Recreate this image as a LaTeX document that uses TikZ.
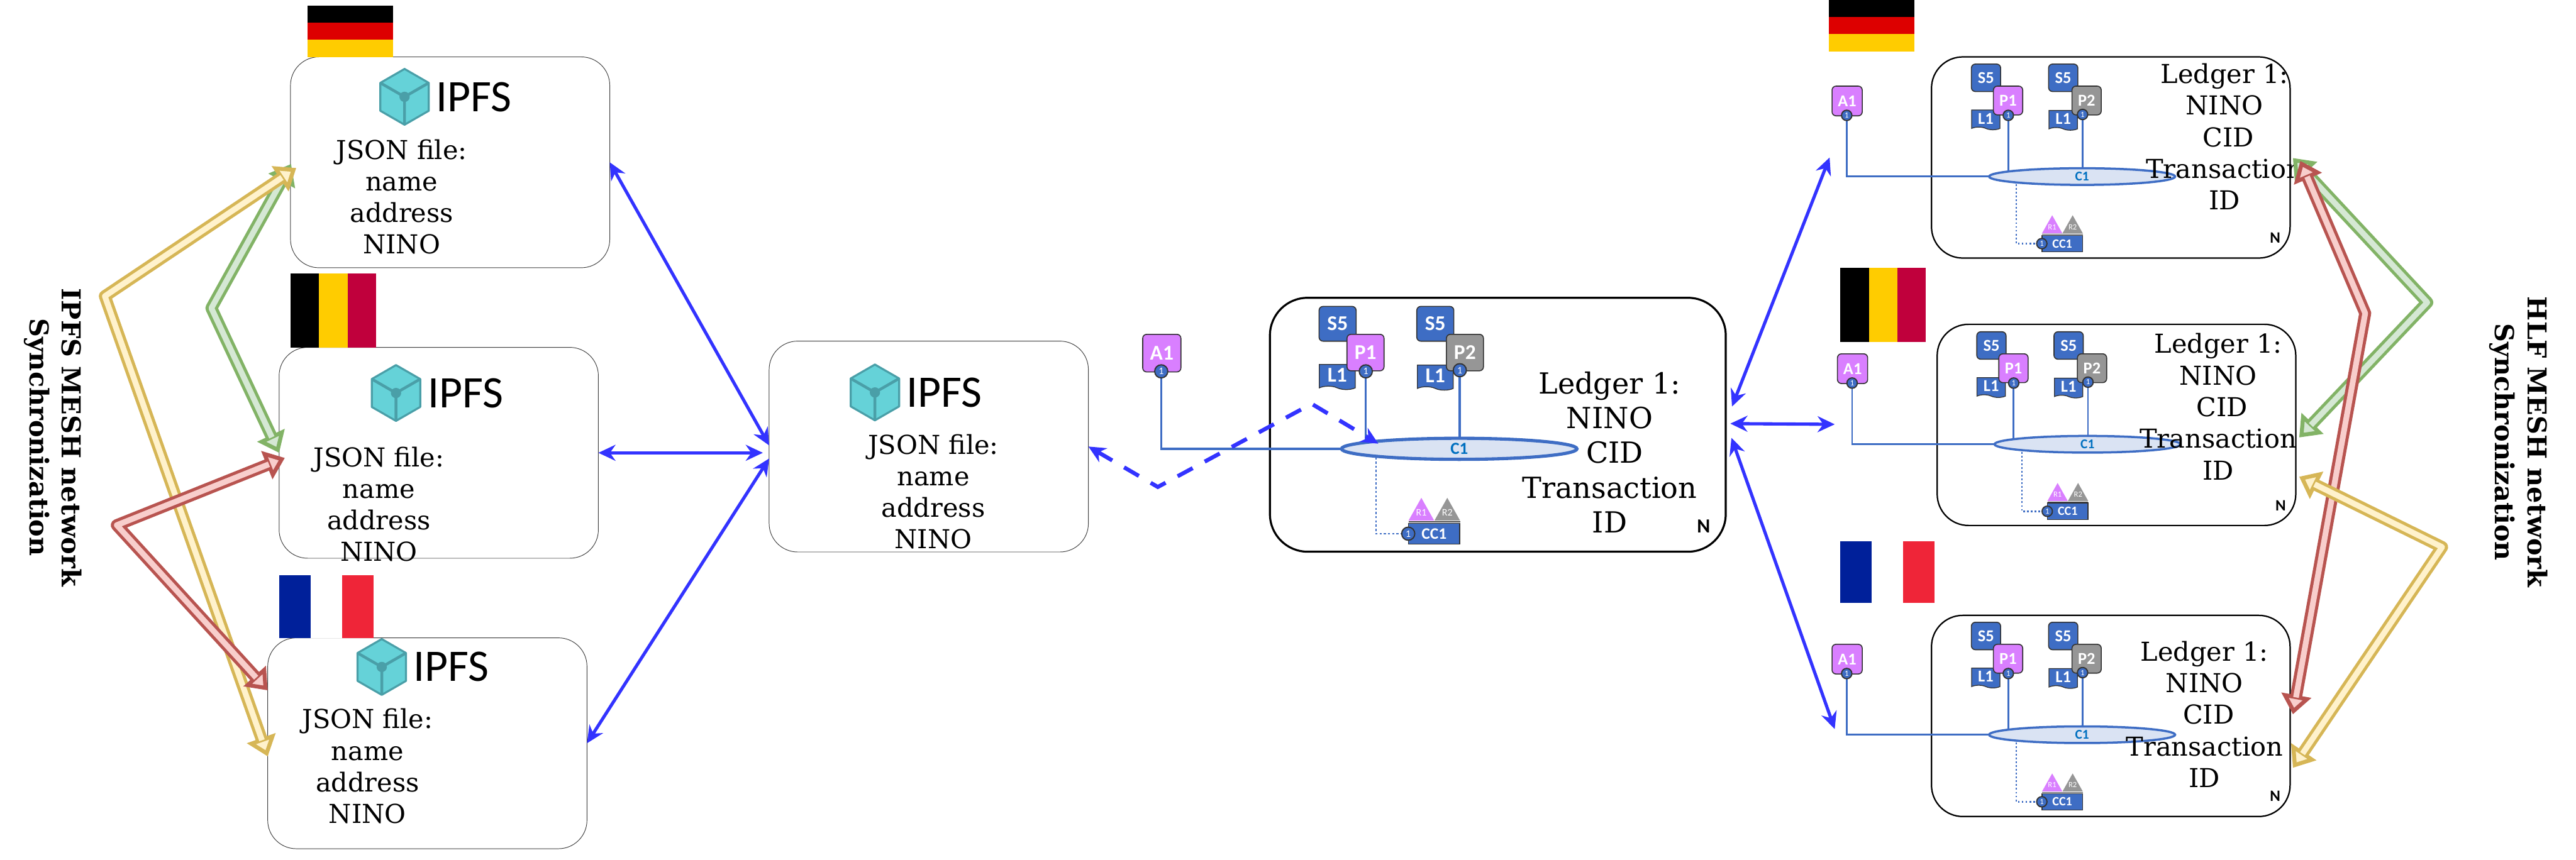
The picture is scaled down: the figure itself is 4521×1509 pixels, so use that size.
\documentclass[tikz,border=0pt]{standalone}
\usepackage{fontspec}
\setmainfont{DejaVu Serif}
\newfontfamily\netfont{Carlito}
\usetikzlibrary{shapes.geometric, shapes.symbols, arrows.meta, positioning, calc}

\definecolor{linkblue}{HTML}{3333FF}
\definecolor{netblue}{HTML}{3E6DC4}
\definecolor{netpurple}{HTML}{D97FFF}
\definecolor{netgrey}{HTML}{969696}
\definecolor{channelfill}{HTML}{DAE3F3}
\definecolor{channeltext}{HTML}{0070C0}
\definecolor{cubefill}{HTML}{65D2D8}
\definecolor{cubeedge}{HTML}{4A9FA8}
\definecolor{yellowline}{HTML}{D6B656}
\definecolor{yellowfill}{HTML}{FFF2CC}
\definecolor{greenline}{HTML}{82B366}
\definecolor{greenfill}{HTML}{D5E8D4}
\definecolor{redline}{HTML}{B85450}
\definecolor{redfill}{HTML}{F8CECC}
\definecolor{flagblack}{HTML}{000000}
\definecolor{flagred}{HTML}{DD0000}
\definecolor{flaggold}{HTML}{FFCC00}
\definecolor{flagcrimson}{HTML}{C0003C}
\definecolor{flagblue}{HTML}{00209A}
\definecolor{flagscarlet}{HTML}{EF2538}

% outline first, then the paler core on top of it
\newcommand{\syncarrow}[4]{
  \draw[draw=#1line, line width=.21cm, line join=round,
    {Triangle[length=.34cm, width=.52cm, line width=.07cm, fill=#1fill]}-{Triangle[length=.34cm, width=.52cm, line width=.07cm, fill=#1fill]}]
    #2 -- #3 -- #4;
  \draw[draw=#1fill, line width=.1cm, line join=round, shorten <=.3cm, shorten >=.3cm] #2 -- #3 -- #4;
}

\tikzset{
  ipfscube/.pic={
    \draw[fill=cubefill, draw=cubeedge, line width=1pt, line join=round]
      (0,-49) -- (42.5,-24.5) -- (42.5,24.5) -- (0,49) -- (-42.5,24.5) -- (-42.5,-24.5) -- cycle;
    \draw[draw=cubeedge, line width=1.4pt] (-42.5,-24.5) -- (0,0) -- (42.5,-24.5) (0,0) -- (0,49);
    \fill[cubeedge] (0,0) circle (.09cm);
    \node[logotext] (-label) at (122,0) {IPFS};
  },
  peers/.pic={
    % links run under the channel, so they can stop at its centre line
    \draw[netline] (0,-136) -- (0,0) -- (523,0);
    \draw[netthick] (76,0) -- (523,0);
    \draw[netline] (359,-136) -- (359,0);
    \draw[netline] (524,-138) -- (524,0);
    \draw[netline, densely dotted, line width=.8pt] (377,0) -- (377,149) -- (433,149);
    \node[channel] (-channel) at (523,0) {C1};
    \node[netbox, fill=netblue, minimum width=.65cm, minimum height=.61cm] (-s1) at (309.5,-219.5) {S5};
    \node[ledgerdoc] (-l1) at (309,-129) {L1};
    \node[netbox, fill=netpurple, minimum width=.65cm, minimum height=.64cm] (-p1) at (358.5,-169) {P1};
    \node[port] (-p1port) at (359,-136) {1};
    \node[netbox, fill=netblue, minimum width=.65cm, minimum height=.61cm] (-s2) at (481,-219.5) {S5};
    \node[ledgerdoc] (-l2) at (481,-128) {L1};
    \node[netbox, fill=netgrey, minimum width=.65cm, minimum height=.64cm] (-p2) at (533,-169) {P2};
    \node[port] (-p2port) at (524,-138) {1};
    \node[netbox, fill=netpurple, minimum width=.67cm, minimum height=.66cm] (-a1) at (1,-168) {A1};
    \node[port] (-a1port) at (0,-136) {1};
    \fill[netpurple] (434,126) -- (456.5,86) -- (479,126) -- cycle;
    \fill[netgrey] (479.5,126) -- (502,86) -- (524.5,126) -- cycle;
    \node[rolemark] (-r1) at (456.5,112) {R1};
    \node[rolemark] (-r2) at (502,112) {R2};
    \draw[draw=black!70, line width=.5pt] (434,128) -- (524.5,128);
    \node[netbox, rounded corners=0pt, fill=netblue, minimum width=.9cm, minimum height=.365cm, font=\netfont\bfseries\fontsize{8}{9}\selectfont] (-cc1) at (479,149) {CC1};
    \node[port] (-ccport) at (433.5,149) {1};
    \node[netbox, draw=none, text=black, font=\netfont\bfseries\fontsize{10}{11}\selectfont] (-n) at (952,136) {N};
  }
}

\begin{document}
\begin{tikzpicture}[
  x=.01cm, y=-.01cm,
  node distance=0pt,
  ipfsbox/.style={rectangle, rounded corners=.5cm, draw=black!75, line width=.3pt, minimum width=5.6cm, minimum height=3.7cm, outer sep=0pt},
  hlfbox/.style={rectangle, rounded corners=.55cm, draw, line width=.7pt, minimum width=6.29cm, minimum height=3.53cm, outer sep=0pt},
  jsontext/.style={align=center, font=\fontsize{13}{15.7}\selectfont, inner sep=0pt},
  ledgertext/.style={align=center, font=\fontsize{13}{15.8}\selectfont, inner sep=0pt},
  logotext/.style={font=\netfont\fontsize{22.5}{24}\selectfont, inner sep=0pt},
  sidetext/.style={rotate=-90, align=center, font=\bfseries\fontsize{13}{16.2}\selectfont, inner sep=0pt},
  stripe/.style={rectangle, inner sep=0pt, outer sep=0pt},
  netline/.style={draw=netblue, line width=1.1pt},
  netthick/.style={draw=netblue, line width=1.5pt},
  netbox/.style={rectangle, rounded corners=.07cm, draw=black!80, line width=.5pt, inner sep=0pt, text=white, transform shape, font=\netfont\bfseries\fontsize{10.5}{12}\selectfont},
  ledgerdoc/.style={tape, tape bend top=none, tape bend bottom=out and in, tape bend height=.06cm, draw=black!80, line width=.4pt, fill=netblue, inner sep=0pt, minimum width=.63cm, minimum height=.44cm, text=white, transform shape, font=\netfont\bfseries\fontsize{10.5}{12}\selectfont},
  port/.style={circle, draw=black!80, fill=netblue, line width=.6pt, inner sep=0pt, minimum size=.23cm, text=white, transform shape, font=\netfont\fontsize{5}{6}\selectfont},
  channel/.style={ellipse, draw=netblue, line width=1.6pt, fill=channelfill, inner sep=0pt, minimum width=4.13cm, minimum height=.37cm, text=channeltext, transform shape, font=\netfont\bfseries\fontsize{8.5}{9}\selectfont},
  rolemark/.style={inner sep=0pt, text=white, transform shape, font=\netfont\fontsize{5}{6}\selectfont},
  smallnet/.style={scale=.79, netline/.append style={line width=.9pt}, netthick/.append style={line width=1pt}, channel/.append style={line width=1.1pt}},
  arrow/.style={{Stealth[length=.3cm, width=.28cm]}-{Stealth[length=.3cm, width=.28cm]}, draw=linkblue, line width=1.6pt}
]
\useasboundingbox (0,0) rectangle (4521,1509);

% IPFS side
\node[ipfsbox] (ipfs1) at (790,285) {};
\node[ipfsbox] (ipfs2) at (770,795) {};
\node[ipfsbox] (ipfs3) at (750,1305) {};
\node[ipfsbox] (ipfs0) at (1630,784) {};

\pic (cube1) at (710,170) {ipfscube};
\pic (cube2) at (695,690) {ipfscube};
\pic (cube3) at (670,1171) {ipfscube};
\pic (cube0) at (1535.5,689) {ipfscube};

\node[jsontext] (json1) at (705,346) {JSON file:\\name\\address\\NINO};
\node[jsontext] (json2) at (665,885) {JSON file:\\name\\address\\NINO};
\node[jsontext] (json3) at (645,1345) {JSON file:\\name\\address\\NINO};
\node[jsontext] (json0) at (1638,863) {JSON file:\\name\\address\\NINO};

% flags
\node[stripe, fill=flagblack, minimum width=1.5cm, minimum height=.3cm] (de1a) at (615,25) {};
\node[stripe, fill=flagred, minimum width=1.5cm, minimum height=.3cm, below=of de1a] (de1b) {};
\node[stripe, fill=flaggold, minimum width=1.5cm, minimum height=.3cm, below=of de1b] (de1c) {};
\node[stripe, fill=flagblack, minimum width=.5cm, minimum height=1.3cm] (be1a) at (535,545) {};
\node[stripe, fill=flaggold, minimum width=.5cm, minimum height=1.3cm, right=of be1a] (be1b) {};
\node[stripe, fill=flagcrimson, minimum width=.5cm, minimum height=1.3cm, right=of be1b] (be1c) {};
\node[stripe, fill=flagblue, minimum width=.55cm, minimum height=1.1cm] (fr1a) at (517.5,1065) {};
\node[stripe, fill=white, minimum width=.55cm, minimum height=1.1cm, right=of fr1a] (fr1b) {};
\node[stripe, fill=flagscarlet, minimum width=.55cm, minimum height=1.1cm, right=of fr1b] (fr1c) {};

\node[stripe, fill=flagblack, minimum width=1.5cm, minimum height=.3cm] (de2a) at (3285,15) {};
\node[stripe, fill=flagred, minimum width=1.5cm, minimum height=.3cm, below=of de2a] (de2b) {};
\node[stripe, fill=flaggold, minimum width=1.5cm, minimum height=.3cm, below=of de2b] (de2c) {};
\node[stripe, fill=flagblack, minimum width=.5cm, minimum height=1.3cm] (be2a) at (3255,535) {};
\node[stripe, fill=flaggold, minimum width=.5cm, minimum height=1.3cm, right=of be2a] (be2b) {};
\node[stripe, fill=flagcrimson, minimum width=.5cm, minimum height=1.3cm, right=of be2b] (be2c) {};
\node[stripe, fill=flagblue, minimum width=.55cm, minimum height=1.09cm] (fr2a) at (3257.5,1004.5) {};
\node[stripe, fill=white, minimum width=.55cm, minimum height=1.09cm, right=of fr2a] (fr2b) {};
\node[stripe, fill=flagscarlet, minimum width=.55cm, minimum height=1.09cm, right=of fr2b] (fr2c) {};

% HLF side
\node[hlfbox, rounded corners=.66cm, line width=1pt, minimum width=7.995cm, minimum height=4.455cm] (hlf0) at (2628.75,745.75) {};
\node[hlfbox] (hlf1) at (3704.5,276.5) {};
\node[hlfbox] (hlf2) at (3714.5,746) {};
\node[hlfbox] (hlf3) at (3704.5,1257) {};

\pic (netcentre) at (2038,788) {peers};
\pic[smallnet] (nettop) at (3241,310) {peers};
\pic[smallnet] (netmid) at (3250.5,780) {peers};
\pic[smallnet] (netbot) at (3241,1290) {peers};

\node[ledgertext, font=\fontsize{14.5}{17.3}\selectfont] (ledger0) at (2825,794) {Ledger 1:\\NINO\\\hspace*{.18cm}CID\\Transaction\\ID};
\node[ledgertext] (ledger1) at (3904,240) {Ledger 1:\\NINO\\\hspace*{.14cm}CID\\Transaction\\ID};
\node[ledgertext] (ledger2) at (3893,714) {Ledger 1:\\NINO\\\hspace*{.14cm}CID\\Transaction\\ID};
\node[ledgertext] (ledger3) at (3869,1254) {Ledger 1:\\NINO\\\hspace*{.14cm}CID\\Transaction\\ID};

% blue links
\draw[arrow] (ipfs1.east) -- ([shift={(0,-2)}]ipfs0.west);
\draw[arrow] (ipfs2.east) -- ([shift={(-11,11)}]ipfs0.west);
\draw[arrow] (ipfs3.east) -- ([shift={(0,21)}]ipfs0.west);

\coordinate (dashlow) at (2032,855);
\coordinate (dashhigh) at (2302,709);
\draw[arrow, dash pattern=on .3cm off .24cm, line width=2pt] (ipfs0.east) -- (dashlow) -- (dashhigh) -- ([shift={(-142,-9)}]netcentre-channel.center);

\coordinate (linktop) at (3211,276.5);
\coordinate (linkmid) at (3220,745);
\coordinate (linkbot) at (3220,1280);
\draw[arrow] ([shift={(11,-32)}]hlf0.east) -- (linktop);
\draw[arrow] ([shift={(8,-2)}]hlf0.east) -- (linkmid);
\draw[arrow] ([shift={(10,23)}]hlf0.east) -- (linkbot);

% mesh synchronization
\coordinate (bendgreenl) at (371,541);
\coordinate (bendyellowl) at (184,520);
\coordinate (bendredl) at (205,922);
\syncarrow{green}{([shift={(1,3)}]ipfs1.west)}{(bendgreenl)}{(ipfs2.west)}
\syncarrow{yellow}{([shift={(10,10)}]ipfs1.west)}{(bendyellowl)}{([shift={(0,23)}]ipfs3.west)}
\syncarrow{red}{([shift={(10,9)}]ipfs2.west)}{(bendredl)}{([shift={(0,-93)}]ipfs3.west)}

\coordinate (bendgreenr) at (4260,531);
\coordinate (bendredr) at (4151,550);
\coordinate (bendyellowr) at (4286,960.5);
\syncarrow{green}{([shift={(5,1)}]hlf1.east)}{(bendgreenr)}{([shift={(6,22)}]hlf2.east)}
\syncarrow{red}{([shift={(18,6)}]hlf1.east)}{(bendredr)}{([shift={(5,-3)}]hlf3.east)}
\syncarrow{yellow}{([shift={(6,91)}]hlf2.east)}{(bendyellowr)}{([shift={(5,91)}]hlf3.east)}

\node[sidetext] (ipfssync) at (93,768) {IPFS MESH network\\Synchronization};
\node[sidetext] (hlfsync) at (4420,776) {HLF MESH network\\Synchronization};

\end{tikzpicture}
\end{document}
